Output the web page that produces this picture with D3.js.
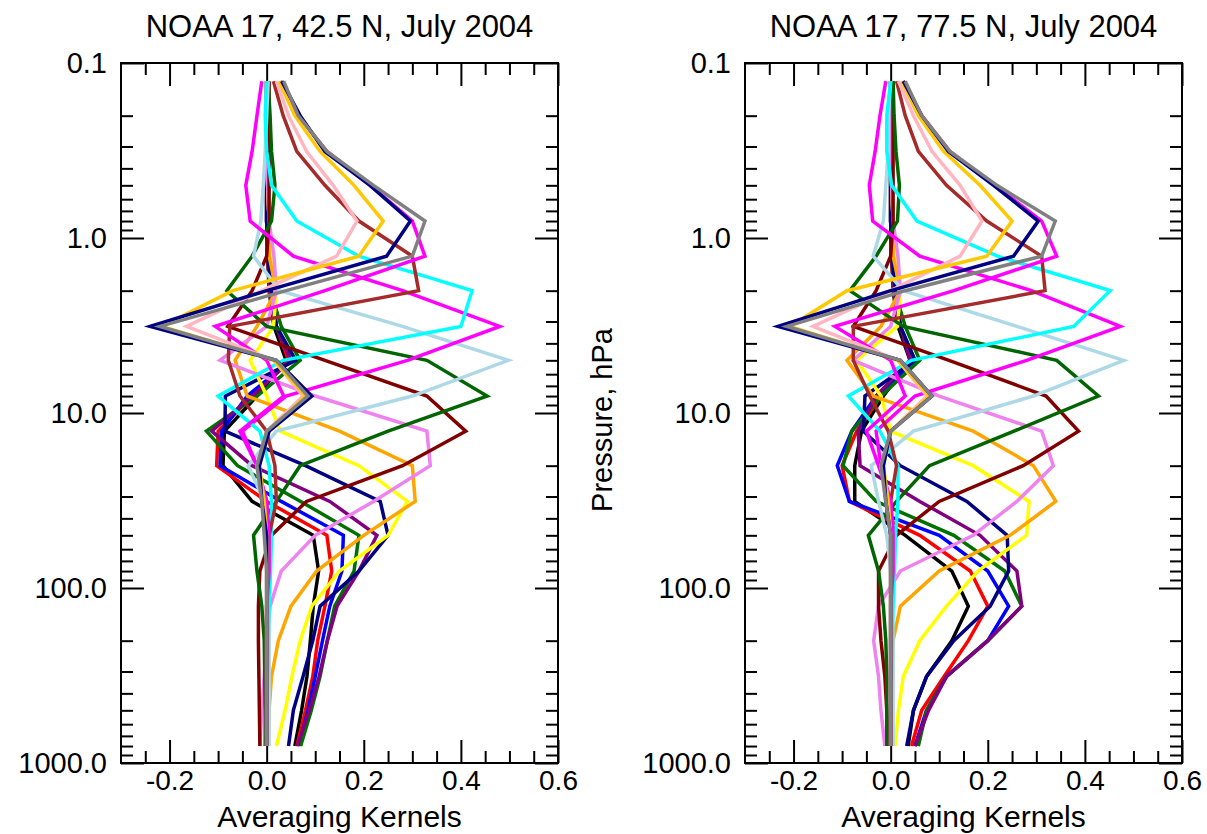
<!DOCTYPE html>
<html>
<head>
<meta charset="utf-8">
<script src="https://cdn.jsdelivr.net/npm/d3@7"></script>
<style>
  body { margin: 0; background: #fff; }
  svg text { font-family: "Liberation Sans", Arial, Helvetica, sans-serif; fill: #000; }
</style>
</head>
<body>
<div id="chart"></div>
<script>
// pressure levels (hPa), layer mid-points
const pressure = [0.127, 0.2, 0.32, 0.5, 0.8, 1.27, 2.0, 3.2, 5.0, 8.0,
                  12.7, 20, 32, 50, 80, 127, 200, 320, 500, 800];

const xTicks = [-0.2, 0.0, 0.2, 0.4, 0.6];
const yTicks = [0.1, 1, 10, 100, 1000];
const titles = ["NOAA 17, 42.5 N, July 2004", "NOAA 17, 77.5 N, July 2004"];

// one colour per kernel, in drawing order
const curveColors = ["#000000", "#ff0000", "#0000ff", "#007000", "#800080", "#000080",
                     "#ffff00", "#ffa500", "#ee82ee", "#800000", "#006400", "#add8e6",
                     "#ff00ff", "#00ffff", "#a52a2a", "#ff00ff", "#ffb6c1", "#ffc800",
                     "#000080", "#808080"];

// averaging kernels, 42.5 N (one row per colour above, top level first)
const ak425 = [
  [0, 0, 0, 0, 0, 0.002, 0.005, 0.015, 0.04, -0.02, -0.087, -0.09, -0.03, 0.096, 0.107, 0.096, 0.09, 0.083, 0.072, 0.058],
  [0, 0, 0, 0, 0, 0.002, 0.006, 0.02, 0.045, -0.03, -0.1, -0.103, 0.0, 0.124, 0.134, 0.12, 0.105, 0.095, 0.08, 0.062],
  [0, 0, 0, 0, 0, 0.002, 0.008, 0.02, 0.05, -0.04, -0.093, -0.096, 0.03, 0.158, 0.155, 0.13, 0.115, 0.1, 0.085, 0.066],
  [0, 0, 0, 0, 0, 0.002, 0.008, 0.03, 0.069, -0.02, -0.124, -0.06, 0.07, 0.19, 0.18, 0.14, 0.125, 0.11, 0.092, 0.07],
  [0, 0, 0, 0, 0, 0.002, 0.008, 0.02, 0.05, -0.03, -0.113, -0.03, 0.13, 0.227, 0.19, 0.145, 0.125, 0.108, 0.088, 0.063],
  [0, 0, 0, 0, 0, 0.003, 0.01, 0.02, 0.06, -0.085, -0.086, 0.08, 0.234, 0.25, 0.19, 0.11, 0.095, 0.075, 0.055, 0.045],
  [0, 0, 0, 0.002, 0.005, 0.01, 0.02, 0.014, -0.034, 0.0, 0.028, 0.19, 0.29, 0.25, 0.15, 0.093, 0.069, 0.052, 0.038, 0.02],
  [0, 0, 0, 0.002, 0.005, 0.005, 0.02, -0.02, -0.065, -0.04, 0.15, 0.3, 0.306, 0.2, 0.103, 0.05, 0.024, 0.01, 0.005, 0.003],
  [0, 0, 0, 0.002, 0.005, 0.015, 0.02, 0.0, -0.096, 0.1, 0.33, 0.337, 0.22, 0.1, 0.03, 0.007, 0.0, -0.005, -0.01, -0.014],
  [0.005, 0.005, 0.005, 0.005, 0.005, 0.0, -0.03, -0.08, 0.12, 0.33, 0.41, 0.28, 0.082, 0.01, -0.014, -0.017, -0.017, -0.016, -0.015, -0.014],
  [0.003, 0.007, 0.01, 0.017, 0.01, -0.03, -0.082, 0.0, 0.33, 0.454, 0.25, 0.069, 0.02, -0.027, -0.02, -0.01, -0.005, -0.004, -0.003, -0.003],
  [0.003, 0.0, -0.003, -0.007, -0.012, -0.027, 0.027, 0.28, 0.498, 0.3, 0.02, -0.038, -0.005, 0.0, 0.003, 0.005, 0.005, 0.005, 0.005, 0.005],
  [-0.01, -0.02, -0.03, -0.043, -0.034, 0.055, 0.28, 0.48, 0.29, 0.04, -0.05, -0.02, 0.0, 0.005, 0.005, 0.003, 0, 0, 0, 0],
  [0.0, -0.003, 0.0, 0.01, 0.062, 0.19, 0.423, 0.4, 0.034, -0.1, -0.014, 0.005, 0.01, 0.01, 0.008, 0.005, 0.003, 0.002, 0, 0],
  [0.014, 0.034, 0.062, 0.12, 0.19, 0.3, 0.313, -0.076, -0.079, -0.055, 0.0, 0.017, 0.02, 0.005, 0.003, 0, 0, 0, 0, 0],
  [0.028, 0.065, 0.124, 0.213, 0.3, 0.326, 0.12, -0.106, 0.0, 0.035, -0.055, -0.02, 0.0, 0.005, 0.005, 0, 0, 0, 0, 0],
  [0.02, 0.045, 0.082, 0.137, 0.186, 0.144, -0.01, -0.165, 0.015, 0.075, 0.0, -0.02, -0.01, 0, 0, 0, 0, 0, 0, 0],
  [0.026, 0.058, 0.11, 0.18, 0.24, 0.19, -0.07, -0.216, 0.015, 0.08, 0.005, -0.015, -0.005, 0, 0, 0, 0, 0, 0, 0],
  [0.031, 0.069, 0.12, 0.213, 0.296, 0.247, 0.0, -0.24, 0.02, 0.093, 0.005, -0.015, -0.01, 0, 0, 0, 0, 0, 0, 0],
  [0.035, 0.065, 0.124, 0.22, 0.326, 0.3, 0.04, -0.22, 0.02, 0.085, 0.0, -0.02, -0.01, -0.005, 0, 0, 0, 0, 0, 0]
];

// averaging kernels, 77.5 N
const ak775 = [
  [0, 0, 0, 0, 0, 0.002, 0.005, 0.015, 0.04, -0.015, -0.06, -0.074, -0.074, 0.03, 0.126, 0.16, 0.126, 0.074, 0.047, 0.036],
  [0, 0, 0, 0, 0, 0.002, 0.006, 0.02, 0.045, -0.02, -0.07, -0.1, -0.085, 0.06, 0.164, 0.2, 0.16, 0.11, 0.064, 0.043],
  [0, 0, 0, 0, 0, 0.002, 0.008, 0.02, 0.05, -0.03, -0.08, -0.11, -0.085, 0.1, 0.2, 0.243, 0.2, 0.115, 0.074, 0.05],
  [0, 0, 0, 0, 0, 0.002, 0.008, 0.03, 0.06, -0.02, -0.08, -0.098, -0.03, 0.13, 0.235, 0.27, 0.2, 0.115, 0.074, 0.057],
  [0, 0, 0, 0, 0, 0.002, 0.008, 0.02, 0.04, -0.03, -0.067, -0.063, 0.06, 0.184, 0.26, 0.27, 0.2, 0.115, 0.078, 0.05],
  [0, 0, 0, 0, 0, 0.003, 0.01, 0.02, 0.05, -0.053, -0.056, 0.02, 0.157, 0.24, 0.243, 0.205, 0.13, 0.074, 0.047, 0.033],
  [0, 0, 0, 0.002, 0.005, 0.01, 0.02, 0.014, -0.07, -0.02, 0.0, 0.17, 0.285, 0.28, 0.18, 0.115, 0.06, 0.026, 0.016, 0.009],
  [0, 0, 0, 0.002, 0.005, 0.005, 0.02, -0.02, -0.09, -0.036, 0.17, 0.294, 0.34, 0.246, 0.1, 0.02, 0.005, 0.002, 0, 0],
  [0, 0, 0, 0.002, 0.005, 0.015, 0.02, 0.0, -0.077, 0.1, 0.311, 0.335, 0.26, 0.17, 0.02, -0.025, -0.035, -0.025, -0.02, -0.012],
  [0.005, 0.005, 0.005, 0.005, 0.005, 0.0, -0.03, -0.077, 0.12, 0.32, 0.387, 0.273, 0.1, 0.012, -0.025, -0.025, -0.02, -0.012, -0.008, -0.005],
  [0.005, 0.007, 0.011, 0.018, 0.014, -0.03, -0.084, 0.026, 0.342, 0.428, 0.254, 0.08, 0.012, -0.046, -0.025, -0.015, -0.01, -0.008, -0.008, -0.008],
  [0.0, -0.005, -0.005, -0.01, -0.015, -0.036, 0.026, 0.26, 0.48, 0.294, 0.047, -0.04, -0.025, -0.008, 0.0, 0.003, 0.005, 0.005, 0.005, 0.005],
  [-0.01, -0.022, -0.032, -0.044, -0.037, 0.06, 0.29, 0.473, 0.28, 0.05, -0.03, -0.02, 0.0, 0.005, 0.005, 0.003, 0, 0, 0, 0],
  [0.0, -0.008, -0.008, 0.002, 0.054, 0.22, 0.452, 0.377, 0.043, -0.087, -0.022, 0.015, 0.015, 0.01, 0.008, 0.005, 0.003, 0.002, 0, 0],
  [0.012, 0.03, 0.057, 0.115, 0.198, 0.311, 0.318, -0.077, -0.077, -0.043, -0.005, 0.012, 0.0, 0.0, 0, 0, 0, 0, 0, 0],
  [0.025, 0.064, 0.122, 0.215, 0.311, 0.342, 0.13, -0.115, 0.0, 0.03, -0.05, -0.025, 0, 0.005, 0.005, 0, 0, 0, 0, 0],
  [0.016, 0.047, 0.085, 0.143, 0.188, 0.143, 0.0, -0.16, 0.015, 0.075, 0.0, -0.02, -0.01, 0, 0, 0, 0, 0, 0, 0],
  [0.023, 0.057, 0.109, 0.184, 0.25, 0.198, -0.09, -0.208, 0.015, 0.08, 0.0, -0.015, -0.005, 0, 0, 0, 0, 0, 0, 0],
  [0.026, 0.064, 0.119, 0.212, 0.304, 0.253, 0.0, -0.232, 0.02, 0.085, 0.0, -0.015, -0.01, 0, 0, 0, 0, 0, 0, 0],
  [0.03, 0.064, 0.122, 0.219, 0.339, 0.311, 0.03, -0.214, 0.02, 0.085, 0.0, -0.02, -0.01, 0, 0, 0, 0, 0, 0, 0]
];

const W = 1207, H = 834;
const plotTop = 63, plotBottom = 763, plotW = 437;
const panelLeft = [121, 745];

const svg = d3.select("#chart").append("svg")
    .attr("width", W)
    .attr("height", H);

// IDL style labels: plain hyphen for the minus sign
var fmt = function (d) { return d3.format(".1f")(d).replace("\u2212", "-"); };

function drawPanel(left, kernels, title) {
    var x = d3.scaleLinear().domain([-0.3, 0.6]).range([left, left + plotW]);
    var y = d3.scaleLog().domain([0.1, 1000]).range([plotTop, plotBottom]);

    var g = svg.append("g");

    // minor ticks every 0.05, majors every 0.2
    var xMinor = d3.range(-0.25, 0.6, 0.05).filter(function (v) {
        return Math.abs(v * 5 - Math.round(v * 5)) > 1e-6;
    });
    var yMinor = [];
    [0.1, 1, 10, 100].forEach(function (d) {
        for (var k = 2; k <= 9; k++) yMinor.push(d * k);
    });

    function ax(axisFn, scale, vals, size, transform) {
        g.append("g")
            .attr("transform", transform)
            .call(axisFn(scale).tickValues(vals).tickSize(size).tickFormat(""))
            .call(function (s) { s.select(".domain").remove(); })
            .selectAll("line").attr("stroke", "#000").attr("stroke-width", 2);
    }
    ax(d3.axisBottom, x, xMinor, -12, "translate(0," + plotBottom + ")");
    ax(d3.axisTop, x, xMinor, -12, "translate(0," + plotTop + ")");
    ax(d3.axisBottom, x, xTicks, -23, "translate(0," + plotBottom + ")");
    ax(d3.axisTop, x, xTicks, -23, "translate(0," + plotTop + ")");
    ax(d3.axisLeft, y, yMinor, -12, "translate(" + left + ",0)");
    ax(d3.axisRight, y, yMinor, -12, "translate(" + (left + plotW) + ",0)");
    ax(d3.axisLeft, y, yTicks, -23, "translate(" + left + ",0)");
    ax(d3.axisRight, y, yTicks, -23, "translate(" + (left + plotW) + ",0)");

    // tick labels
    g.append("g")
        .attr("transform", "translate(0," + plotBottom + ")")
        .call(d3.axisBottom(x).tickValues(xTicks).tickSize(0).tickPadding(7).tickFormat(fmt))
        .call(function (s) { s.select(".domain").remove(); })
        .selectAll("text").style("font-size", "28px");

    g.append("g")
        .attr("transform", "translate(" + left + ",0)")
        .call(d3.axisLeft(y).tickValues(yTicks).tickSize(0).tickPadding(14).tickFormat(fmt))
        .call(function (s) { s.select(".domain").remove(); })
        .selectAll("text").style("font-size", "29px");

    // curves
    var line = d3.line()
        .x(function (d) { return x(d[0]); })
        .y(function (d) { return y(d[1]); });

    kernels.forEach(function (row, i) {
        g.append("path")
            .datum(row.map(function (v, j) { return [v, pressure[j]]; }))
            .attr("fill", "none")
            .attr("stroke", curveColors[i])
            .attr("stroke-width", 3.5)
            .attr("stroke-linejoin", "miter")
            .attr("d", line);
    });

    // frame
    g.append("rect")
        .attr("x", left).attr("y", plotTop)
        .attr("width", plotW).attr("height", plotBottom - plotTop)
        .attr("fill", "none").attr("stroke", "#000").attr("stroke-width", 2);

    g.append("text")
        .attr("x", left + plotW / 2).attr("y", 37)
        .attr("text-anchor", "middle")
        .style("font-size", "31px")
        .text(title);

    g.append("text")
        .attr("x", left + plotW / 2).attr("y", 827)
        .attr("text-anchor", "middle")
        .style("font-size", "30px")
        .text("Averaging Kernels");
}

drawPanel(panelLeft[0], ak425, titles[0]);
drawPanel(panelLeft[1], ak775, titles[1]);

svg.append("text")
    .attr("transform", "translate(612,420) rotate(-90)")
    .attr("text-anchor", "middle")
    .style("font-size", "29px")
    .text("Pressure, hPa");
</script>
</body>
</html>
